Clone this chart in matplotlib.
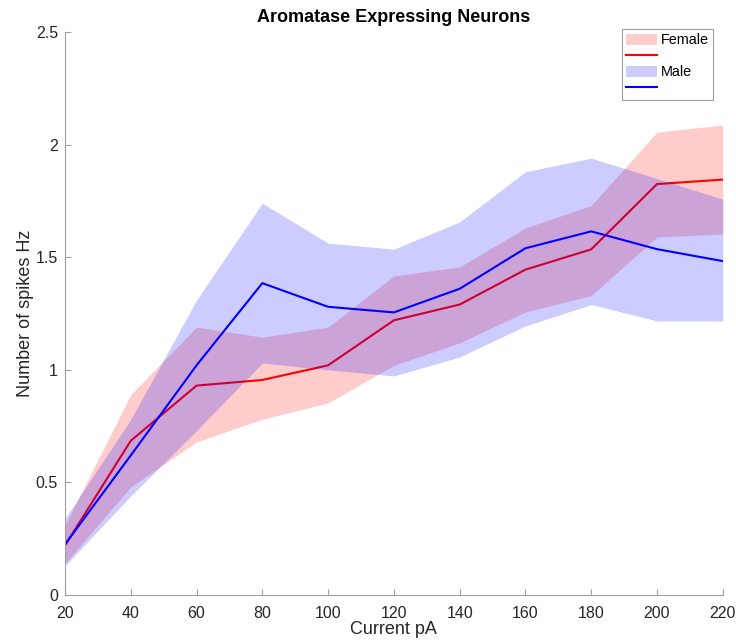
"""Aromatase expressing neurons: spikes vs current"""

import matplotlib.pyplot as plt
import numpy as np

###Adjustments
font_size = 11.5
fig_size = (7.36, 6.42)
dpi = 100
###Adjustments end

current = [20, 40, 60, 80, 100, 120, 140, 160, 180, 200, 220]

female_mean = [0.22, 0.685, 0.93, 0.955, 1.02, 1.22, 1.29, 1.445, 1.535, 1.825, 1.845]
female_upper = [0.31, 0.89, 1.19, 1.145, 1.19, 1.417, 1.457, 1.63, 1.73, 2.056, 2.087]
female_lower = [0.14, 0.48, 0.68, 0.78, 0.853, 1.02, 1.12, 1.257, 1.33, 1.59, 1.603]

male_mean = [0.225, 0.62, 1.02, 1.385, 1.28, 1.255, 1.36, 1.54, 1.615, 1.536, 1.483]
male_upper = [0.34, 0.78, 1.31, 1.74, 1.563, 1.536, 1.657, 1.88, 1.94, 1.85, 1.758]
male_lower = [0.13, 0.44, 0.73, 1.03, 1.0, 0.973, 1.057, 1.195, 1.29, 1.217, 1.217]

plt.rcParams['font.family'] = ['Liberation Sans', 'DejaVu Sans']

fig = plt.figure(figsize=fig_size, dpi=dpi)
ax = fig.add_axes([0.0883, 0.0732, 0.8937, 0.8768])

# draw in the same order as the original: each fill covers the lines drawn before it
ax.fill_between(current, female_lower, female_upper, color=(1, 0, 0), alpha=0.2,
                linewidth=0, label='Female', zorder=1)
ax.plot(current, female_mean, color=(1, 0, 0), linewidth=1.5, label=' ', zorder=2)
ax.fill_between(current, male_lower, male_upper, color=(0, 0, 1), alpha=0.2,
                linewidth=0, label='Male', zorder=3)
ax.plot(current, male_mean, color=(0, 0, 1), linewidth=1.5, label='  ', zorder=4)

ax.set_xlim(20, 220)
ax.set_ylim(0, 2.5)
ax.set_xticks(np.arange(20, 221, 20))
ax.set_yticks([0, 0.5, 1, 1.5, 2, 2.5])
ax.set_yticklabels(['0', '0.5', '1', '1.5', '2', '2.5'])

for side in ['top', 'right']:
    ax.spines[side].set_visible(False)
for side in ['left', 'bottom']:
    ax.spines[side].set_color('#a0a0a0')
    ax.spines[side].set_zorder(5)
ax.tick_params(direction='in', length=4, color='#a0a0a0', labelcolor='#262626',
               labelsize=font_size)
ax.tick_params(axis='x', pad=8)
ax.tick_params(axis='y', pad=5)

ax.set_title('Aromatase Expressing Neurons', fontsize=13, fontweight='bold', pad=7)
ax.set_xlabel('Current pA', fontsize=13, color='#262626', labelpad=0)
ax.set_ylabel('Number of spikes Hz', fontsize=13, color='#262626', labelpad=1)

leg = ax.legend(loc='upper right', bbox_to_anchor=(0.985, 1.006), fontsize=10.4,
                fancybox=False, framealpha=1, edgecolor='#a0a0a0',
                handlelength=2.1, handleheight=0.8, labelspacing=0.15,
                handletextpad=0.28, borderpad=0.3, borderaxespad=0)
leg.get_frame().set_linewidth(0.8)

fig.savefig('out.png', dpi=dpi)
plt.close()
